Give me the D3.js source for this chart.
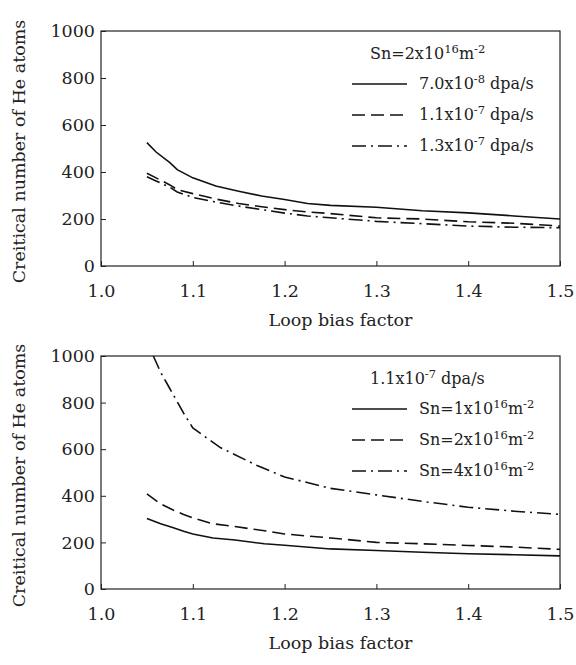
<!DOCTYPE html>
<html>
<head>
<meta charset="utf-8">
<script src="https://cdn.jsdelivr.net/npm/d3@7"></script>
<style>
  body { margin: 0; background: #fff; }
  text { font-family: "DejaVu Serif", "Liberation Serif", serif; fill: #222; }
  .axis path, .axis line { stroke: #222; }
</style>
</head>
<body>
<div id="chart"></div>
<script>
// x values (loop bias factor) for each curve
const xTop = [1.05, 1.06, 1.075, 1.083, 1.1, 1.125, 1.15, 1.175, 1.2, 1.225, 1.25, 1.3, 1.35, 1.4, 1.45, 1.5];
const top70 = [525, 485, 440, 410, 375, 340, 318, 298, 283, 266, 258, 250, 235, 226, 213, 200];
const top11 = [395, 375, 345, 325, 308, 285, 266, 252, 240, 230, 223, 205, 200, 188, 182, 170];
const top13 = [380, 362, 335, 315, 292, 272, 255, 240, 225, 213, 205, 190, 180, 170, 165, 163];

const xBot = [1.05, 1.065, 1.078, 1.09, 1.1, 1.122, 1.146, 1.178, 1.2, 1.25, 1.3, 1.35, 1.4, 1.45, 1.5];
const bot1 = [303, 280, 264, 248, 236, 219, 210, 194, 188, 172, 165, 158, 151, 147, 142];
const bot2 = [408, 365, 340, 320, 305, 280, 268, 250, 236, 219, 200, 194, 187, 180, 170];
const xBot4 = [1.057, 1.065, 1.074, 1.09, 1.1, 1.13, 1.17, 1.2, 1.25, 1.3, 1.35, 1.4, 1.45, 1.5];
const bot4 = [1000, 930, 867, 755, 691, 607, 530, 481, 432, 404, 376, 351, 334, 320];

const xTicks = [1.0, 1.1, 1.2, 1.3, 1.4, 1.5];
const yTicks = [0, 200, 400, 600, 800, 1000];

const dashStyles = ["none", "13,6", "14,5,2,5"];

const width = 576, height = 665;
const svg = d3.select("#chart").append("svg")
  .attr("width", width)
  .attr("height", height);

function drawPanel(top, bottom, series, legendTitle, legendLabels) {
  const x = d3.scaleLinear().domain([1.0, 1.5]).range([101, 560]);
  const y = d3.scaleLinear().domain([0, 1000]).range([bottom, top]);

  const g = svg.append("g");

  // frame
  g.append("rect")
    .attr("x", x(1.0)).attr("y", y(1000))
    .attr("width", x(1.5) - x(1.0)).attr("height", y(0) - y(1000))
    .attr("fill", "none").attr("stroke", "#222").attr("stroke-width", 1.2);

  g.append("g")
    .attr("class", "axis")
    .attr("transform", `translate(0,${y(0)})`)
    .call(d3.axisBottom(x).tickValues(xTicks).tickFormat(d3.format(".1f"))
      .tickSizeInner(-5).tickSizeOuter(0).tickPadding(19))
    .call(a => a.select(".domain").remove())
    .selectAll("text").style("font-size", "17.5px");

  g.append("g")
    .attr("class", "axis")
    .attr("transform", `translate(${x(1.0)},0)`)
    .call(d3.axisLeft(y).tickValues(yTicks).tickFormat(d3.format("d"))
      .tickSizeInner(-5).tickSizeOuter(0).tickPadding(6))
    .call(a => a.select(".domain").remove())
    .selectAll("text").style("font-size", "17.5px");

  g.append("text")
    .attr("x", (x(1.0) + x(1.5)) / 2 + 10)
    .attr("y", bottom + 60)
    .attr("text-anchor", "middle")
    .style("font-size", "17.5px")
    .text("Loop bias factor");

  g.append("text")
    .attr("transform", `translate(25,${(top + bottom) / 2 + 3}) rotate(-90)`)
    .attr("text-anchor", "middle")
    .style("font-size", "17.5px")
    .text("Creitical number of He atoms");

  const line = d3.line().x(d => x(d[0])).y(d => y(d[1]));

  series.forEach((s, i) => {
    g.append("path")
      .datum(d3.zip(s.xs, s.ys))
      .attr("d", line)
      .attr("fill", "none")
      .attr("stroke", "#111")
      .attr("stroke-width", 1.6)
      .attr("stroke-dasharray", dashStyles[i]);
  });

  // legend
  const lg = g.append("g");
  addRich(lg.append("text")
    .attr("x", 370)
    .attr("y", top + 28)
    .style("font-size", "16px"), legendTitle);

  legendLabels.forEach((lab, i) => {
    const ly = top + 53 + i * 31;
    lg.append("line")
      .attr("x1", 352).attr("x2", 407)
      .attr("y1", ly).attr("y2", ly)
      .attr("stroke", "#111").attr("stroke-width", 1.6)
      .attr("stroke-dasharray", dashStyles[i]);
    addRich(lg.append("text")
      .attr("x", 419)
      .attr("y", ly + 5)
      .style("font-size", "16px"), lab);
  });
}

// parts: [text, isSuperscript, backToBaseline]
function addRich(textSel, parts) {
  parts.forEach(p => {
    textSel.append("tspan")
      .attr("dy", p[1] ? -6 : (p[2] ? 6 : 0))
      .style("font-size", p[1] ? "11.5px" : null)
      .text(p[0]);
  });
}

drawPanel(31, 266,
  [{ xs: xTop, ys: top70 }, { xs: xTop, ys: top11 }, { xs: xTop, ys: top13 }],
  [["Sn=2x10"], ["16", true], ["m", false, true], ["-2", true]],
  [
    [["7.0x10"], ["-8", true], [" dpa/s", false, true]],
    [["1.1x10"], ["-7", true], [" dpa/s", false, true]],
    [["1.3x10"], ["-7", true], [" dpa/s", false, true]]
  ]);

drawPanel(356, 589,
  [{ xs: xBot, ys: bot1 }, { xs: xBot, ys: bot2 }, { xs: xBot4, ys: bot4 }],
  [["1.1x10"], ["-7", true], [" dpa/s", false, true]],
  [
    [["Sn=1x10"], ["16", true], ["m", false, true], ["-2", true]],
    [["Sn=2x10"], ["16", true], ["m", false, true], ["-2", true]],
    [["Sn=4x10"], ["16", true], ["m", false, true], ["-2", true]]
  ]);
</script>
</body>
</html>
